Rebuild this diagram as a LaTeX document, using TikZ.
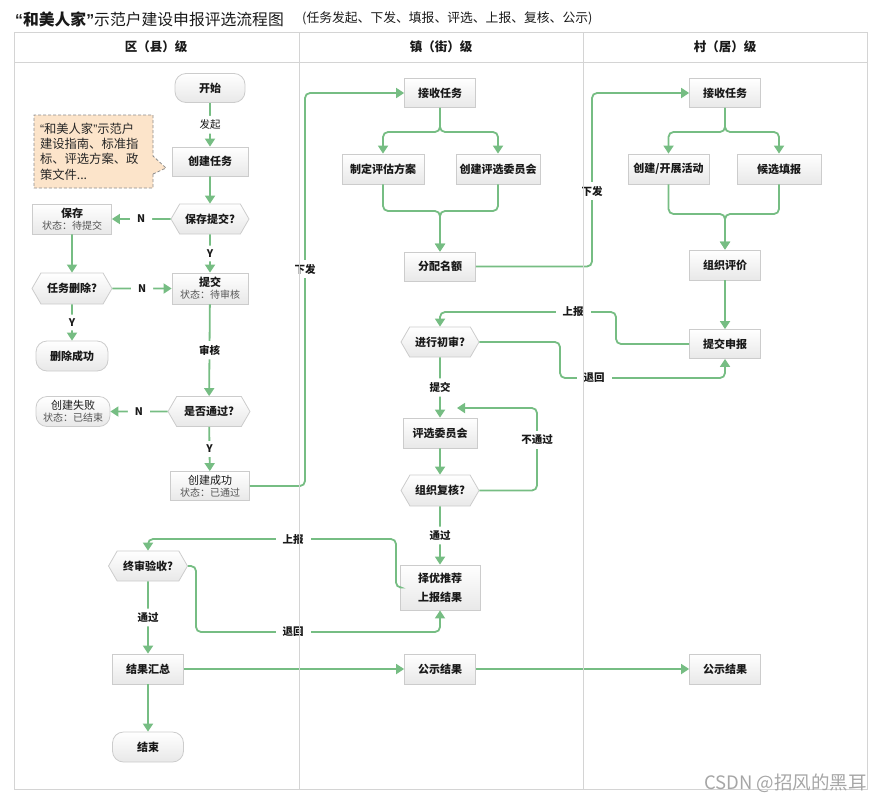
\documentclass[tikz,border=0pt]{standalone}
\usepackage{fontspec}
\setmainfont{Noto Sans CJK SC}
\newfontfamily\qfont{Liberation Sans}
\usetikzlibrary{shapes.symbols,shapes.callouts,arrows.meta}
\definecolor{gline}{RGB}{118,189,131}
\definecolor{bdr}{RGB}{204,204,204}
\definecolor{gridc}{RGB}{212,212,212}
\definecolor{notefill}{RGB}{252,228,202}
\definecolor{txt}{RGB}{25,25,25}
\definecolor{stat}{RGB}{85,85,85}
\newcommand\fsz[2]{\fontsize{#1}{#2}\selectfont}
\newcommand\stt[1]{{\fsz{10}{13}\mdseries\color{stat}#1}}
\newcommand\myLQ{{\qfont “}}
\newcommand\myRQ{{\qfont ”}}
\tikzset{
  base/.style={draw=bdr, line width=0.8pt, top color=white, bottom color=black!9, text=txt,
    font=\fsz{11}{14}\bfseries, inner sep=1pt, align=center},
  box/.style={base, rectangle, minimum width=71pt, minimum height=29pt},
  term/.style={base, rectangle, rounded corners=11pt, minimum width=70pt, minimum height=29pt},
  hex/.style={base, signal, signal to=west and east, signal pointer angle=120, minimum width=78pt, minimum height=30pt},
  conn/.style={draw=gline, line width=1.8pt, rounded corners=5pt, -{Triangle[length=8pt,width=10pt]}},
  lbl/.style={fill=white, text=txt, font=\fsz{10.5}{12}\bfseries, inner xsep=7pt, inner ysep=4pt},
  gridline/.style={draw=gridc, line width=0.9pt},
  note/.style={rectangle callout, draw=black!45, dashed, dash pattern=on 3pt off 2pt, fill=notefill,
    line width=0.8pt, minimum width=119pt, minimum height=73pt, text width=107pt, align=left,
    font=\fsz{12.3}{15.3}, text=black!85, inner xsep=5pt, callout pointer width=18pt},
}
\begin{document}
\begin{tikzpicture}[x=1pt,y=-1pt]
\useasboundingbox (0,0) rectangle (882,803);

% title
\node[anchor=west, inner sep=0, font=\fsz{15.8}{17}, text=txt] (title) at (15,19) {{\bfseries\myLQ 和美人家\myRQ}示范户建设申报评选流程图};
\node[anchor=west, inner sep=0, font=\fsz{12.8}{15}, text=txt] (sub) at (302,18) {(任务发起、下发、填报、评选、上报、复核、公示)};

% header texts
\node[font=\fsz{12.5}{14}\bfseries, text=txt] (h1) at (156,47) {区（县）级};
\node[font=\fsz{12.5}{14}\bfseries, text=txt] (h2) at (441,47) {镇（街）级};
\node[font=\fsz{12.5}{14}\bfseries, text=txt] (h3) at (725,47) {村（居）级};

% ---------- nodes (district)
\node[term, minimum width=70pt] (s0) at (210,88) {开始};
\node[box, minimum width=76pt] (d1) at (210,161.5) {创建任务};
\node[hex] (q1) at (210,219) {保存提交?};
\node[box, minimum width=79pt, minimum height=30pt] (sv) at (72,219) {保存\\[-2pt]\stt{状态：待提交}};
\node[hex, minimum width=80pt, minimum height=31pt] (q2) at (72,288.5) {任务删除?};
\node[box, minimum width=76pt, minimum height=31pt] (sb) at (210,288.5) {提交\\[-2pt]\stt{状态：待审核}};
\node[term, minimum width=72pt, minimum height=30pt] (del) at (72,356) {删除成功};
\node[hex, minimum width=82pt] (q3) at (209,411.5) {是否通过?};
\node[term, minimum width=74pt, minimum height=30pt, font=\fsz{11}{14}\mdseries] (fail) at (73,411.5) {创建失败\\[-2pt]\stt{状态：已结束}};
\node[box, minimum width=79pt, minimum height=29pt, font=\fsz{11}{14}\mdseries] (ok) at (210,486) {创建成功\\[-2pt]\stt{状态：已通过}};
\node[note, callout absolute pointer={(166,168)}] (nt) at (93.5,151.5) {\myLQ 和美人家\myRQ 示范户\\建设指南、标准指\\标、评选方案、政\\策文件...};

% ---------- nodes (town)
\node[box] (tA) at (440,93) {接收任务};
\node[box, minimum width=82pt, minimum height=30pt] (tB) at (383,169) {制定评估方案};
\node[box, minimum width=84pt, minimum height=30pt] (tC) at (498,169) {创建评选委员会};
\node[box] (tD) at (440,266.5) {分配名额};
\node[hex] (q4) at (440,342) {进行初审?};
\node[box, minimum width=74pt, minimum height=30pt] (tE) at (440,433) {评选委员会};
\node[hex, minimum height=31pt] (q5) at (440,490.5) {组织复核?};
\node[box, minimum width=80pt, minimum height=45pt, font=\fsz{11}{19}\bfseries] (tF) at (440,587.5) {择优推荐\\上报结果};
\node[box, minimum height=30pt] (pub1) at (440,669) {公示结果};

% ---------- nodes (village)
\node[box] (vA) at (725,93) {接收任务};
\node[box, minimum width=81pt, minimum height=30pt] (vB) at (668.5,169) {创建/开展活动};
\node[box, minimum width=84pt, minimum height=30pt] (vC) at (779,169) {候选填报};
\node[box, minimum height=30pt] (vD) at (725,265) {组织评价};
\node[box] (vE) at (725,344) {提交申报};
\node[box, minimum height=30pt] (pub2) at (725,669) {公示结果};

% ---------- district bottom
\node[hex, minimum width=79pt] (q6) at (148,566) {终审验收?};
\node[box, minimum height=30pt] (sum) at (148,669) {结果汇总};
\node[term, minimum width=71pt, minimum height=30pt] (end) at (148,747) {结束};

\coordinate (loopend) at (457,408);

% ---------- connectors
\draw[conn] (s0) -- node[lbl, font=\fsz{10.5}{12}\mdseries]{发起} (d1);
\draw[conn] (d1) -- (q1);
\draw[conn] (q1) -- node[lbl]{N} (sv);
\draw[conn] (q1) -- node[lbl]{Y} (sb);
\draw[conn] (sv) -- (q2);
\draw[conn] (q2) -- node[lbl]{N} (sb);
\draw[conn] (q2) -- node[lbl]{Y} (del);
\draw[conn] (sb) -- node[lbl]{审核} (q3);
\draw[conn] (q3) -- node[lbl]{N} (fail);
\draw[conn] (q3) -- node[lbl]{Y} (ok);
\draw[conn] (ok.east) -| (305,93) -- (tA.west);

\draw[conn] (tA.south) -- (440,132) -| (tB.north);
\draw[conn] (tA.south) -- (440,132) -| (tC.north);
\draw[conn] (tB.south) |- (440,211) -- (tD.north);
\draw[conn] (tC.south) |- (440,211) -- (tD.north);
\draw[conn] (tD.east) -| (592,93) -- (vA.west);

\draw[conn] (vA.south) -- (725,132) -| (vB.north);
\draw[conn] (vA.south) -- (725,132) -| (vC.north);
\draw[conn] (vB.south) |- (725,214) -- (vD.north);
\draw[conn] (vC.south) |- (725,214) -- (vD.north);
\draw[conn] (vD) -- (vE);

\draw[conn] (vE.west) -| (616,312) -| (q4.north);
\draw[conn] (q4.east) -| (560,378) -| (vE.south);
\draw[conn] (q4) -- node[lbl]{提交} (tE);
\draw[conn] (tE) -- (q5);
\draw[conn] (q5.east) -| (537,408) -- (loopend);
\draw[conn] (q5) -- node[lbl]{通过} (tF);
\draw[conn] (tF.west) -| (396,539) -| (q6.north);
\draw[conn] (q6.east) -| (196,632) -| (tF.south);
\draw[conn] (q6) -- node[lbl]{通过} (sum);
\draw[conn] (sum) -- (end);
\draw[conn] (sum) -- (pub1);
\draw[conn] (pub1) -- (pub2);

% connector labels
\node[lbl] (l1) at (305,269) {下发};
\node[lbl] (l2) at (592,191) {下发};
\node[lbl] (l3) at (573,312) {上报};
\node[lbl] (l4) at (594,378) {退回};
\node[lbl] (l5) at (537,440) {不通过};
\node[lbl] (l6) at (293,540) {上报};
\node[lbl] (l7) at (293,632) {退回};

% table grid
\draw[gridline] (14,32) rectangle (867,789);
\draw[gridline] (14,62) -- (867,62);
\draw[gridline] (299,32) -- (299,789);
\draw[gridline] (583,32) -- (583,789);

% watermark
\node[anchor=east, inner sep=0, font=\fsz{18.5}{19}, text=black!35] (wm) at (867,783) {CSDN @招风的黑耳};
\end{tikzpicture}
\end{document}
